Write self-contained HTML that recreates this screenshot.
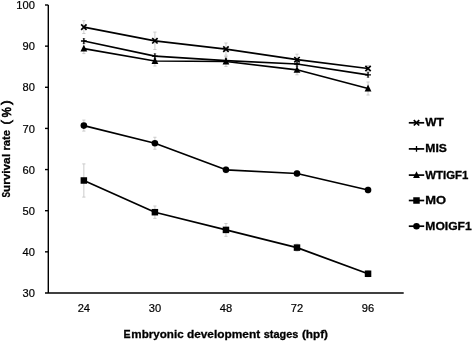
<!DOCTYPE html>
<html><head><meta charset="utf-8"><title>Survival rate chart</title>
<style>
html,body{margin:0;padding:0;background:#fff;}
body{width:472px;height:343px;overflow:hidden;}
svg{display:block;will-change:transform;}
text{font-family:"Liberation Sans",sans-serif;fill:#000;}
.t{font-size:10.8px;stroke:#000;stroke-width:0.2px;}
.p{stroke:#000;stroke-width:0.7px;}
.q{stroke:#000;stroke-width:0.75px;}
.b{font-weight:bold;stroke:#000;stroke-width:0.3px;}
</style></head><body>
<svg width="472" height="343" viewBox="0 0 472 343">
<rect width="472" height="343" fill="#fff"/>
<g stroke="#c6c6c6" stroke-width="0.9" fill="none">
<path d="M83.85 20.70V33.50M82.25 20.70h3.2M82.25 33.50h3.2"/>
<path d="M154.90 32.10V49.50M153.30 32.10h3.2M153.30 49.50h3.2"/>
<path d="M225.95 43.00V55.20M224.35 43.00h3.2M224.35 55.20h3.2"/>
<path d="M297.00 54.20V65.20M295.40 54.20h3.2M295.40 65.20h3.2"/>
<path d="M368.05 65.50V71.50M366.45 65.50h3.2M366.45 71.50h3.2"/>
<path d="M83.85 38.60V43.40M82.25 38.60h3.2M82.25 43.40h3.2"/>
<path d="M154.90 53.70V58.50M153.30 53.70h3.2M153.30 58.50h3.2"/>
<path d="M225.95 58.20V63.00M224.35 58.20h3.2M224.35 63.00h3.2"/>
<path d="M297.00 61.60V66.40M295.40 61.60h3.2M295.40 66.40h3.2"/>
<path d="M368.05 72.50V77.30M366.45 72.50h3.2M366.45 77.30h3.2"/>
<path d="M83.85 43.60V53.60M82.25 43.60h3.2M82.25 53.60h3.2"/>
<path d="M154.90 56.00V66.00M153.30 56.00h3.2M153.30 66.00h3.2"/>
<path d="M225.95 56.50V66.50M224.35 56.50h3.2M224.35 66.50h3.2"/>
<path d="M297.00 64.80V74.80M295.40 64.80h3.2M295.40 74.80h3.2"/>
<path d="M368.05 82.00V95.00M366.45 82.00h3.2M366.45 95.00h3.2"/>
<path d="M83.85 120.10V131.10M82.25 120.10h3.2M82.25 131.10h3.2"/>
<path d="M154.90 137.25V149.25M153.30 137.25h3.2M153.30 149.25h3.2"/>
<path d="M225.95 166.80V172.80M224.35 166.80h3.2M224.35 172.80h3.2"/>
<path d="M297.00 170.50V176.50M295.40 170.50h3.2M295.40 176.50h3.2"/>
<path d="M368.05 187.00V193.00M366.45 187.00h3.2M366.45 193.00h3.2"/>
<path d="M83.85 163.90V197.10M82.25 163.90h3.2M82.25 197.10h3.2"/>
<path d="M154.90 206.00V218.40M153.30 206.00h3.2M153.30 218.40h3.2"/>
<path d="M225.95 223.50V236.30M224.35 223.50h3.2M224.35 236.30h3.2"/>
<path d="M297.00 244.10V251.10M295.40 244.10h3.2M295.40 251.10h3.2"/>
<path d="M368.05 270.75V276.75M366.45 270.75h3.2M366.45 276.75h3.2"/>
</g>
<g stroke="#000" stroke-width="1.4" fill="none">
<path d="M48.3 5V293"/>
<path d="M45 293H403.7"/>
<path d="M45 5.00H48.3"/>
<path d="M45 46.14H48.3"/>
<path d="M45 87.28H48.3"/>
<path d="M45 128.42H48.3"/>
<path d="M45 169.56H48.3"/>
<path d="M45 210.70H48.3"/>
<path d="M45 251.84H48.3"/>
</g>
<polyline points="83.85,180.50 154.90,212.20 225.95,229.90 297.00,247.60 368.05,273.75" fill="none" stroke="#000" stroke-width="1.7" stroke-linejoin="round"/>
<rect x="80.60" y="177.25" width="6.5" height="6.5" fill="#000"/>
<rect x="151.65" y="208.95" width="6.5" height="6.5" fill="#000"/>
<rect x="222.70" y="226.65" width="6.5" height="6.5" fill="#000"/>
<rect x="293.75" y="244.35" width="6.5" height="6.5" fill="#000"/>
<rect x="364.80" y="270.50" width="6.5" height="6.5" fill="#000"/>
<polyline points="83.85,125.60 154.90,143.25 225.95,169.80 297.00,173.50 368.05,190.00" fill="none" stroke="#000" stroke-width="1.7" stroke-linejoin="round"/>
<circle cx="83.85" cy="125.60" r="3.3" fill="#000"/>
<circle cx="154.90" cy="143.25" r="3.3" fill="#000"/>
<circle cx="225.95" cy="169.80" r="3.3" fill="#000"/>
<circle cx="297.00" cy="173.50" r="3.3" fill="#000"/>
<circle cx="368.05" cy="190.00" r="3.3" fill="#000"/>
<polyline points="83.85,48.60 154.90,61.00 225.95,61.50 297.00,69.80 368.05,88.50" fill="none" stroke="#000" stroke-width="1.7" stroke-linejoin="round"/>
<path d="M83.85 44.70L87.25 51.50L80.45 51.50Z" fill="#000"/>
<path d="M154.90 57.10L158.30 63.90L151.50 63.90Z" fill="#000"/>
<path d="M225.95 57.60L229.35 64.40L222.55 64.40Z" fill="#000"/>
<path d="M297.00 65.90L300.40 72.70L293.60 72.70Z" fill="#000"/>
<path d="M368.05 84.60L371.45 91.40L364.65 91.40Z" fill="#000"/>
<polyline points="83.85,41.00 154.90,56.10 225.95,60.60 297.00,64.00 368.05,74.90" fill="none" stroke="#000" stroke-width="1.7" stroke-linejoin="round"/>
<path d="M83.85 38.10L83.85 43.90M80.95 41.00L86.75 41.00" stroke="#000" stroke-width="1.3" fill="none"/>
<path d="M154.90 53.20L154.90 59.00M152.00 56.10L157.80 56.10" stroke="#000" stroke-width="1.3" fill="none"/>
<path d="M225.95 57.70L225.95 63.50M223.05 60.60L228.85 60.60" stroke="#000" stroke-width="1.3" fill="none"/>
<path d="M297.00 61.10L297.00 66.90M294.10 64.00L299.90 64.00" stroke="#000" stroke-width="1.3" fill="none"/>
<path d="M368.05 72.00L368.05 77.80M365.15 74.90L370.95 74.90" stroke="#000" stroke-width="1.3" fill="none"/>
<polyline points="83.85,27.10 154.90,40.80 225.95,49.10 297.00,59.70 368.05,68.50" fill="none" stroke="#000" stroke-width="1.7" stroke-linejoin="round"/>
<path d="M81.15 24.40L86.55 29.80M81.15 29.80L86.55 24.40" stroke="#000" stroke-width="1.7" fill="none"/>
<path d="M152.20 38.10L157.60 43.50M152.20 43.50L157.60 38.10" stroke="#000" stroke-width="1.7" fill="none"/>
<path d="M223.25 46.40L228.65 51.80M223.25 51.80L228.65 46.40" stroke="#000" stroke-width="1.7" fill="none"/>
<path d="M294.30 57.00L299.70 62.40M294.30 62.40L299.70 57.00" stroke="#000" stroke-width="1.7" fill="none"/>
<path d="M365.35 65.80L370.75 71.20M365.35 71.20L370.75 65.80" stroke="#000" stroke-width="1.7" fill="none"/>
<text class="t" x="16.33" y="9.10" textLength="18.57" lengthAdjust="spacingAndGlyphs">100</text>
<text class="t" x="22.52" y="50.24" textLength="12.38" lengthAdjust="spacingAndGlyphs">90</text>
<text class="t" x="22.52" y="91.38" textLength="12.38" lengthAdjust="spacingAndGlyphs">80</text>
<text class="t" x="22.52" y="132.52" textLength="12.38" lengthAdjust="spacingAndGlyphs">70</text>
<text class="t" x="22.52" y="173.66" textLength="12.38" lengthAdjust="spacingAndGlyphs">60</text>
<text class="t" x="22.52" y="214.80" textLength="12.38" lengthAdjust="spacingAndGlyphs">50</text>
<text class="t" x="22.52" y="255.94" textLength="12.38" lengthAdjust="spacingAndGlyphs">40</text>
<text class="t" x="22.52" y="297.08" textLength="12.38" lengthAdjust="spacingAndGlyphs">30</text>
<text class="t" x="77.66" y="312.2" textLength="12.38" lengthAdjust="spacingAndGlyphs">24</text>
<text class="t" x="148.71" y="312.2" textLength="12.38" lengthAdjust="spacingAndGlyphs">30</text>
<text class="t" x="219.76" y="312.2" textLength="12.38" lengthAdjust="spacingAndGlyphs">48</text>
<text class="t" x="290.81" y="312.2" textLength="12.38" lengthAdjust="spacingAndGlyphs">72</text>
<text class="t" x="361.86" y="312.2" textLength="12.38" lengthAdjust="spacingAndGlyphs">96</text>
<text class="b" font-size="11.6" y="338.0"><tspan x="123.60" textLength="7.10" lengthAdjust="spacingAndGlyphs">E</tspan><tspan x="131.30" textLength="52.30" lengthAdjust="spacingAndGlyphs">mbryonic</tspan> <tspan x="186.90" textLength="73.30" lengthAdjust="spacingAndGlyphs">development</tspan> <tspan x="263.80" textLength="34.60" lengthAdjust="spacingAndGlyphs">stages</tspan> <tspan x="301.90" textLength="26.10" lengthAdjust="spacingAndGlyphs">(hpf)</tspan></text>
<text transform="translate(10.2 197.6) rotate(-90)"><tspan class="b" font-size="11.6" x="0" y="0" textLength="5.5" lengthAdjust="spacingAndGlyphs">S</tspan><tspan class="b" font-size="11.6" x="5.6" y="0" textLength="34.6" lengthAdjust="spacingAndGlyphs">urviva</tspan><tspan class="b" font-size="11.6" x="40.6" y="0">l</tspan> <tspan class="b" font-size="11.6" x="47.1" y="0" textLength="20.6" lengthAdjust="spacingAndGlyphs">rate</tspan> <tspan class="q" font-size="13" x="73.1" y="0">(</tspan> <tspan class="p" font-size="13.6" x="80.3" y="0.8" textLength="10.0" lengthAdjust="spacingAndGlyphs">%</tspan> <tspan class="q" font-size="13" x="92.8" y="0">)</tspan></text>
<path d="M408.8 122.8H424.2" stroke="#000" stroke-width="1.7"/>
<path d="M413.80 120.10L419.20 125.50M413.80 125.50L419.20 120.10" stroke="#000" stroke-width="1.7" fill="none"/>
<text class="b" font-size="11.3" x="425.3" y="126.20" textLength="18.6" lengthAdjust="spacingAndGlyphs">WT</text>
<path d="M408.8 148.9H424.2" stroke="#000" stroke-width="1.7"/>
<path d="M416.50 146.00L416.50 151.80M413.60 148.90L419.40 148.90" stroke="#000" stroke-width="1.3" fill="none"/>
<text class="b" font-size="11.3" x="425.3" y="152.30" textLength="21.6" lengthAdjust="spacingAndGlyphs">MIS</text>
<path d="M408.8 175.1H424.2" stroke="#000" stroke-width="1.7"/>
<path d="M416.50 171.20L419.90 178.00L413.10 178.00Z" fill="#000"/>
<text class="b" font-size="11.3" x="425.3" y="178.50" textLength="43.1" lengthAdjust="spacingAndGlyphs">WTIGF1</text>
<path d="M408.8 200.5H424.2" stroke="#000" stroke-width="1.7"/>
<rect x="413.25" y="197.25" width="6.5" height="6.5" fill="#000"/>
<text class="b" font-size="11.3" x="425.3" y="203.90" textLength="20.8" lengthAdjust="spacingAndGlyphs">MO</text>
<path d="M408.8 226.2H424.2" stroke="#000" stroke-width="1.7"/>
<circle cx="416.50" cy="226.20" r="3.3" fill="#000"/>
<text class="b" font-size="11.3" x="425.3" y="229.60" textLength="46.4" lengthAdjust="spacingAndGlyphs">MOIGF1</text>
</svg></body></html>
